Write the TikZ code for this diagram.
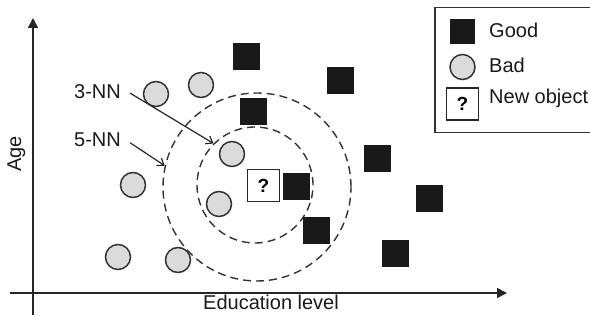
\documentclass[tikz,border=0pt]{standalone}
\usepackage{fontspec}
\setmainfont{Liberation Sans}
\usetikzlibrary{arrows.meta}
\begin{document}
\begin{tikzpicture}[x=1pt,y=-1pt,
  bad/.style={circle,draw=black!80,fill=black!14,line width=1.5pt,minimum size=25pt,inner sep=0pt},
  good/.style={rectangle,fill=black!90,minimum size=27pt,inner sep=0pt},
  newobj/.style={rectangle,draw=black!85,line width=1.6pt,fill=white,minimum size=32pt,inner sep=0pt,font=\fontsize{19}{22}\selectfont\bfseries},
  lbl/.style={font=\fontsize{20}{24}\selectfont,inner sep=0pt,text=black!90},
  ring/.style={circle,draw=black!80,dash pattern=on 8pt off 5pt,line width=1.4pt,inner sep=0pt},
  axis/.style={line width=1.6pt,draw=black!85,-{Triangle[length=10pt,width=10pt]}},
  pointer/.style={line width=1.2pt,draw=black!85,-{Straight Barb[length=6pt,width=9pt]}}
]
\useasboundingbox (0,0) rectangle (590,320);

% axes
\coordinate (yb) at (33,315);
\coordinate (yt) at (33,18);
\coordinate (xl) at (10,293);
\coordinate (xr) at (507,293);
\draw[axis] (yb) -- (yt);
\draw[axis] (xl) -- (xr);
\node[lbl,rotate=90,anchor=base west] (age) at (21,172) {Age};
\node[lbl,anchor=base west] (edu) at (203,310) {Education level};

% rings
\node[ring,minimum size=116pt] (inner) at (255,185) {};
\node[ring,minimum size=188pt] (outer) at (257,187) {};

% bad points
\node[bad] (b1) at (156,94) {};
\node[bad] (b2) at (201,85) {};
\node[bad] (b3) at (232,154) {};
\node[bad] (b4) at (133,185) {};
\node[bad] (b5) at (219,204) {};
\node[bad] (b6) at (118,257) {};
\node[bad] (b7) at (178,260) {};

% good points
\node[good] (g1) at (246,57) {};
\node[good] (g2) at (253,112) {};
\node[good] (g3) at (296.5,187) {};
\node[good] (g4) at (340,81) {};
\node[good] (g5) at (377,159) {};
\node[good] (g6) at (429,199) {};
\node[good] (g7) at (316,231) {};
\node[good] (g8) at (395,254) {};

% new object
\node[newobj] (q) at (263.5,185.5) {?};

% k labels
\node[lbl,anchor=base west] (nn3) at (74,99) {3-NN};
\node[lbl,anchor=base west] (nn5) at (74,146.5) {5-NN};
\draw[pointer] ([xshift=9pt,yshift=-1pt]nn3.east) -- (inner.135);
\draw[pointer] ([xshift=9pt,yshift=-3pt]nn5.east) -- (outer.167);

% legend
\node[draw=black!80,line width=1.5pt,minimum width=158pt,minimum height=125pt,anchor=north west,inner sep=0pt] (legend) at (434,7) {};
\node[good,minimum size=25pt] (lg) at (462.5,31.5) {};
\node[bad] (lb) at (462.5,67) {};
\node[newobj] (lq) at (462.5,104) {?};
\node[lbl,anchor=base west] (tg) at (489,37.5) {Good};
\node[lbl,anchor=base west] (tb) at (489,73) {Bad};
\node[lbl,anchor=base west] (tq) at (489,103.5) {New object};
\end{tikzpicture}
\end{document}
